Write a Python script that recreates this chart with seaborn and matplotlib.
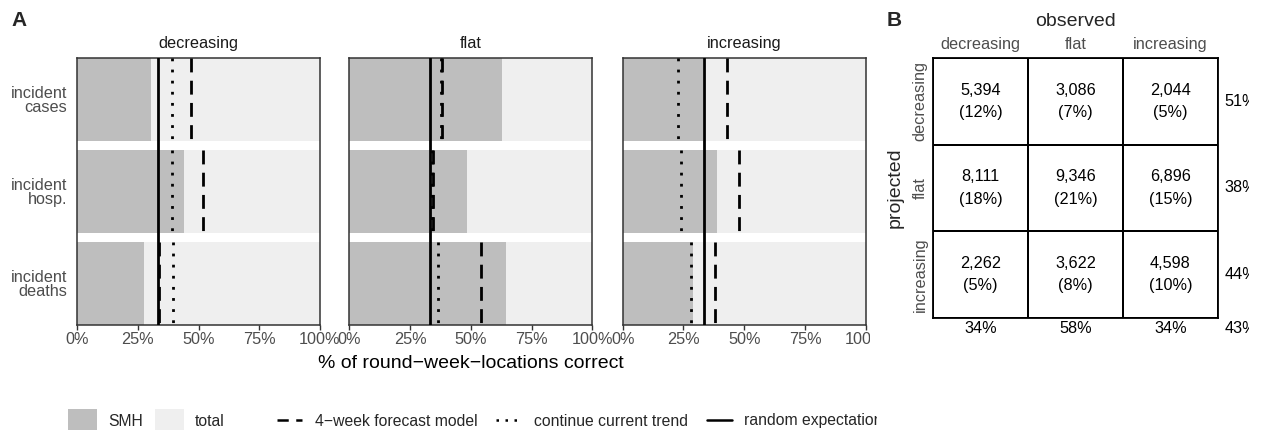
import numpy as np
import pandas as pd
import matplotlib
matplotlib.use("Agg")
import matplotlib.pyplot as plt
import seaborn as sns
from matplotlib.patches import Patch
from matplotlib.lines import Line2D
from matplotlib.transforms import Bbox
from matplotlib.colors import ListedColormap

# ---------------- data ----------------
trends = ["decreasing", "flat", "increasing"]
targets = ["incident\ncases", "incident\nhosp.", "incident\ndeaths"]
total_pct = [100, 100, 100]
smh_decreasing = [30.5, 44.0, 27.6]
smh_flat = [63.0, 48.3, 64.4]
smh_increasing = [33.2, 38.9, 29.0]
forecast_decreasing = [47.0, 52.0, 33.6]
forecast_flat = [38.2, 34.6, 54.0]
forecast_increasing = [42.9, 47.7, 38.0]
trend_decreasing = [39.0, 39.0, 39.6]
trend_flat = [37.6, 34.0, 36.4]
trend_increasing = [22.6, 24.0, 28.0]
random_expectation = 100 / 3

obs_labels = ["decreasing", "flat", "increasing"]
proj_labels = ["decreasing", "flat", "increasing"]
counts = np.array([[5394, 3086, 2044],
                   [8111, 9346, 6896],
                   [2262, 3622, 4598]])

smh = [smh_decreasing, smh_flat, smh_increasing]
forecast = [forecast_decreasing, forecast_flat, forecast_increasing]
trend = [trend_decreasing, trend_flat, trend_increasing]

# ---------------- style ----------------
sns.set_style("white")
plt.rcParams["font.family"] = ["Liberation Sans", "DejaVu Sans"]
FIG_W, FIG_H = 1261, 430
fig = plt.figure(figsize=(FIG_W / 100, FIG_H / 100), dpi=100)

def ax_rect(x0, y0, x1, y1):
    return [x0 / FIG_W, 1 - y1 / FIG_H, (x1 - x0) / FIG_W, (y1 - y0) / FIG_H]

def fx(px):
    return px / FIG_W

def fy(py):
    return 1 - py / FIG_H

SMH_COL = "#BEBEBE"
TOT_COL = "#EFEFEF"
TICK_COL = "#4D4D4D"
BORDER = "#333333"
SMALL = 11.7
BIG = 14

lefts = [77, 349.3, 622.7]
clip_ticks = Bbox([[0, 0], [870, FIG_H]])
clip_leg = Bbox([[0, 0], [877, FIG_H]])
axes = []
for k, tr in enumerate(trends):
    ax = fig.add_axes(ax_rect(lefts[k], 58, lefts[k] + 243, 325))
    axes.append(ax)
    df_tot = pd.DataFrame({"target": targets, "pct": total_pct})
    df_smh = pd.DataFrame({"target": targets, "pct": smh[k]})
    sns.barplot(data=df_tot, x="pct", y="target", color=TOT_COL, saturation=1,
                width=0.9, linewidth=0, errorbar=None, ax=ax, orient="h")
    sns.barplot(data=df_smh, x="pct", y="target", color=SMH_COL, saturation=1,
                width=0.9, linewidth=0, errorbar=None, ax=ax, orient="h")
    for i in range(len(targets)):
        ax.vlines(forecast[k][i], i - 0.45, i + 0.45, colors="black",
                  linewidth=2, linestyles=[(0, (5, 3))], zorder=4)
        ax.vlines(trend[k][i], i - 0.45, i + 0.45, colors="black",
                  linewidth=2, linestyles=[(0, (1, 3))], zorder=4)
    ax.axvline(random_expectation, color="black", linewidth=2, zorder=5)
    ax.set_xlim(0, 100)
    ax.set_ylim(2.45, -0.45)
    ax.set_xticks([0, 25, 50, 75, 100])
    ax.set_xticklabels(["0%", "25%", "50%", "75%", "100%"])
    ax.tick_params(axis="x", length=3.5, width=1, color=BORDER, labelsize=SMALL,
                   labelcolor=TICK_COL, pad=1.5, bottom=True)
    ax.tick_params(axis="y", length=0, labelsize=SMALL, labelcolor=TICK_COL, pad=7)
    if k > 0:
        ax.set_yticklabels([])
    else:
        for lab in ax.get_yticklabels():
            lab.set_linespacing(0.95)
    ax.set_xlabel("")
    ax.set_ylabel("")
    ax.set_title(tr, fontsize=SMALL, color="#1A1A1A", pad=7)
    for s in ax.spines.values():
        s.set_visible(True)
        s.set_color(BORDER)
        s.set_linewidth(1.1)

fig.text(fx(471), fy(363), "% of round\u2212week\u2212locations correct",
         ha="center", va="center", fontsize=BIG, color="black")

fig.canvas.draw()
for lab in axes[2].get_xticklabels():
    lab.set_clip_on(True)
    lab.set_clip_box(clip_ticks)

# legends
fill_handles = [Patch(facecolor=SMH_COL, edgecolor="none", label="SMH"),
                Patch(facecolor=TOT_COL, edgecolor="none", label="total")]
leg1 = fig.legend(handles=fill_handles, loc="center left",
                  bbox_to_anchor=(fx(68), fy(421)), ncol=2, frameon=False,
                  fontsize=11.3, handlelength=1.85, handleheight=1.95,
                  handletextpad=0.7, columnspacing=0.75, borderaxespad=0,
                  borderpad=0)
line_handles = [Line2D([], [], color="black", lw=1.8, ls=(0, (4.5, 3)), label="4\u2212week forecast model"),
                Line2D([], [], color="black", lw=1.8, ls=(0, (1, 2.6)), label="continue current trend"),
                Line2D([], [], color="black", lw=1.8, ls="-", label="random expectation")]
leg2 = fig.legend(handles=line_handles, loc="center left",
                  bbox_to_anchor=(fx(277), fy(421)), ncol=3, frameon=False,
                  fontsize=11.3, handlelength=1.6, handletextpad=0.8,
                  columnspacing=1.2, borderaxespad=0, borderpad=0)
for t in leg2.get_texts():
    t.set_clip_on(True)
    t.set_clip_box(clip_leg)

# panel labels
fig.text(fx(11), fy(21), "A", fontsize=15, fontweight="bold", va="center")
fig.text(fx(887), fy(21), "B", fontsize=15, fontweight="bold", va="center")

# ---------------- panel B ----------------
axB = fig.add_axes(ax_rect(933, 58, 1218, 318))
total = counts.sum()
annot = np.array([[f"{counts[r, c]:,}\n({100 * counts[r, c] / total:.0f}%)"
                   for c in range(3)] for r in range(3)])
sns.heatmap(counts, annot=annot, fmt="", cmap=ListedColormap(["white"]), cbar=False,
            linewidths=1.3, linecolor="black", ax=axB,
            annot_kws={"fontsize": SMALL, "color": "black", "linespacing": 1.6})
for s in axB.spines.values():
    s.set_visible(True)
    s.set_color("black")
    s.set_linewidth(1.3)
axB.xaxis.tick_top()
axB.set_xticks([0.5, 1.5, 2.5])
axB.set_xticklabels(obs_labels)
axB.set_yticks([0.5, 1.5, 2.5])
axB.set_yticklabels(proj_labels, rotation=90, va="center")
axB.tick_params(length=0, labelsize=SMALL, labelcolor=TICK_COL, pad=4)
axB.set_xlabel("observed", fontsize=BIG, labelpad=8)
axB.xaxis.set_label_position("top")
axB.set_ylabel("projected", fontsize=BIG, labelpad=6)

clipB = Bbox([[0, 0], [1249, FIG_H]])
row_acc = np.diag(counts) / counts.sum(axis=1) * 100
col_acc = np.diag(counts) / counts.sum(axis=0) * 100
overall = np.trace(counts) / total * 100
for r in range(3):
    t = axB.text(3.07, r + 0.5, f"{row_acc[r]:.0f}%", ha="left", va="center",
                 fontsize=SMALL, color="black")
    t.set_clip_on(True)
    t.set_clip_box(clipB)
for c in range(3):
    axB.text(c + 0.5, 3.03, f"{col_acc[c]:.0f}%", ha="center", va="top",
             fontsize=SMALL, color="black", clip_on=False)
t = axB.text(3.07, 3.03, f"{overall:.0f}%", ha="left", va="top", fontsize=SMALL,
             color="black")
t.set_clip_on(True)
t.set_clip_box(clipB)

fig.savefig("out.png", dpi=100)
